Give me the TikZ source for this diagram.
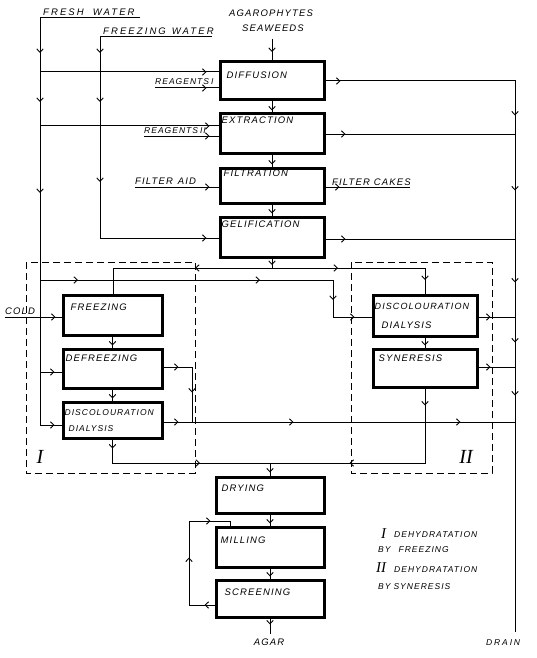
\documentclass[tikz,border=0pt]{standalone}
\usepackage{fontspec}
\newfontfamily\hw[LetterSpace=12]{Liberation Sans}
\newfontfamily\hwb[LetterSpace=22]{Liberation Sans}
\newfontfamily\rn{Liberation Serif}
\usetikzlibrary{arrows.meta,decorations.markings,calc}
\tikzset{
  box/.style={draw, line width=3pt, rectangle, inner sep=0pt},
  ln/.style={line width=1pt},
  ar/.style={postaction={decorate,decoration={markings,mark=at position #1 with {\arrow{Straight Barb[length=3.5pt,width=6.5pt,line width=0.9pt]}}}}},
  txt/.style={font=\hw\itshape\fontsize{9.5}{11}\selectfont, inner sep=0pt, anchor=base west},
  txs/.style={font=\hw\itshape\fontsize{8.5}{10}\selectfont, inner sep=0pt, anchor=base west},
  txw/.style={font=\hwb\itshape\fontsize{8.5}{10}\selectfont, inner sep=0pt, anchor=base west},
  roman/.style={font=\rn\itshape\fontsize{20}{20}\selectfont, inner sep=0pt, anchor=base},
  romans/.style={font=\rn\itshape\fontsize{15}{15}\selectfont, inner sep=0pt, anchor=base west},
  frame/.style={line width=0.7pt, dash pattern=on 7pt off 4pt},
}
\begin{document}
\begin{tikzpicture}[x=1pt,y=-1pt]
\useasboundingbox (0,0) rectangle (536,658);

% ---------- boxes
\node[box,minimum width=104pt,minimum height=38pt] (diff) at (272,81) {};
\node[box,minimum width=104pt,minimum height=39pt] (ext) at (272,133.5) {};
\node[box,minimum width=104pt,minimum height=35pt] (filt) at (272,185.5) {};
\node[box,minimum width=104pt,minimum height=40pt] (gel) at (272,237) {};
\node[box,minimum width=99pt,minimum height=40pt] (fre) at (112.5,315) {};
\node[box,minimum width=99pt,minimum height=39pt] (defr) at (112.5,368.5) {};
\node[box,minimum width=99pt,minimum height=36pt] (dda) at (112.5,420) {};
\node[box,minimum width=104pt,minimum height=41pt] (ddb) at (425,315.5) {};
\node[box,minimum width=104pt,minimum height=38pt] (syn) at (425,368) {};
\node[box,minimum width=108pt,minimum height=36pt] (dry) at (270,495) {};
\node[box,minimum width=108pt,minimum height=40pt] (mill) at (270,547) {};
\node[box,minimum width=108pt,minimum height=37pt] (scr) at (270,598.5) {};

% ---------- box texts
\node[txt] (tdiff) at ($(diff.north west)+(8,18)$) {DIFFUSION};
\node[txt] (text) at ($(ext.north west)+(3,11)$) {EXTRACTION};
\node[txt] (tfilt) at ($(filt.north west)+(5,10)$) {FILTRATION};
\node[txt] (tgel) at ($(gel.north west)+(3,12)$) {GELIFICATION};
\node[txt] (tfre) at ($(fre.north west)+(9,17)$) {FREEZING};
\node[txt] (tdefr) at ($(defr.north west)+(4,14)$) {DEFREEZING};
\node[txs] (tdda1) at ($(dda.north west)+(3,15)$) {DISCOLOURATION};
\node[txs] (tdda2) at ($(dda.north west)+(7,31)$) {DIALYSIS};
\node[txt,font=\hw\itshape\fontsize{9}{10}\selectfont] (tddb1) at ($(ddb.north west)+(3,16)$) {DISCOLOURATION};
\node[txt] (tddb2) at ($(ddb.north west)+(10,35)$) {DIALYSIS};
\node[txt] (tsyn) at ($(syn.north west)+(7,14)$) {SYNERESIS};
\node[txt] (tdry) at ($(dry.north west)+(7,16)$) {DRYING};
\node[txt] (tmill) at ($(mill.north west)+(6,18)$) {MILLING};
\node[txt] (tscr) at ($(scr.north west)+(10,17)$) {SCREENING};

% ---------- outside texts
\node[txt,font=\hwb\itshape\fontsize{9.5}{11}\selectfont] (tfw) at (43,16) {FRESH\hspace{9pt}WATER};
\node[txt,font=\hwb\itshape\fontsize{9.5}{11}\selectfont] (tfz) at (103,35) {FREEZING\hspace{6pt}WATER};
\node[txt,anchor=base] (tag1) at (271,17) {AGAROPHYTES};
\node[txt,anchor=base] (tag2) at (273,32) {SEAWEEDS};
\node[txs] (trg1) at (155,85) {REAGENTS\hspace{2pt}I};
\node[txs] (trg2) at (144,133) {REAGENTS\hspace{2pt}II};
\node[txt] (tfa) at (135,184) {FILTER\hspace{5pt}AID};
\node[txt] (tfc) at (332,185) {FILTER\hspace{4pt}CAKES};
\node[txt] (tcold) at (5,314) {COLD};
\node[txt,anchor=base] (tagar) at (269,645) {AGAR};
\node[txw] (tdrain) at (486,645) {DRAIN};
\node[roman] (rI) at (40,463) {I};
\node[roman] (rII) at (466,463) {II};
\node[romans] (lI) at (381,538) {I};
\node[txs] (lI1) at (394,537) {DEHYDRATATION};
\node[txs] (lI2) at (378,552) {BY\hspace{8pt}FREEZING};
\node[romans] (lII) at (376,572) {II};
\node[txs] (lII1) at (394,572) {DEHYDRATATION};
\node[txs] (lII2) at (378,589) {BY\hspace{3pt}SYNERESIS};

% ---------- dashed frames
\draw[frame] (26,262) rectangle (195,473);
\draw[frame] (351,262) rectangle (492,473);

% ---------- coordinates
\coordinate (fwa) at (140,18);
\coordinate (fwb) at (40,18);
\coordinate (fwc) at (40,425);
\coordinate (fza) at (212,37);
\coordinate (fzb) at (100,37);
\coordinate (fzc) at (100,238);
\coordinate (fd1) at (40,72);
\coordinate (fd2) at (40,126);
\coordinate (rg1) at (155,88);
\coordinate (rg2) at (144,136);
\coordinate (fa) at (135,187);
\coordinate (fc) at (410,187);
\coordinate (swa) at (272,39);
\coordinate (dra) at (515,81);
\coordinate (drb) at (515,632);
\coordinate (exo) at (515,134);
\coordinate (gelo) at (515,239);
\coordinate (ddbo) at (515,317);
\coordinate (syno) at (515,367);
\coordinate (cda) at (5,317);
\coordinate (dfa) at (40,372);
\coordinate (gs) at (272,268);
\coordinate (gsl) at (113,268);
\coordinate (gsr) at (425,268);
\coordinate (fda) at (40,280);
\coordinate (fdb) at (333,280);
\coordinate (fdc) at (333,317);
\coordinate (dfo1) at (192,367);
\coordinate (dfo2) at (192,422);
\coordinate (ll) at (515,422);
\coordinate (mg) at (270,463);
\coordinate (ag) at (270,634);
\coordinate (rc1) at (189,605);
\coordinate (rc2) at (189,521);
\coordinate (rc3) at (230,521);

% ---------- water supply
\draw[ln, ar=135pt, ar=184pt, ar=275pt, ar=-7pt] (fwa) -- (fwb) -- (fwc) -- (dda.west |- fwc);
\draw[ln, ar=128pt, ar=177pt, ar=257pt, ar=-12pt] (fza) -- (fzb) -- (fzc) -- (gel.west |- fzc);
\draw[ln, ar=-12pt] (fd1) -- (diff.west |- fd1);
\draw[ln, ar=-9pt] (fd2) -- (ext.west |- fd2);
\draw[ln, ar=-12pt] (rg1) -- (diff.west |- rg1);
\draw[ln, ar=-9pt] (rg2) -- (ext.west |- rg2);
\draw[ln, ar=-9pt] (fa) -- (filt.west |- fa);
\draw[ln, ar=14pt] (filt.east |- fc) -- (fc);
\draw[ln, ar=-6pt] (cda) -- (fre.west |- cda);
\draw[ln, ar=-7pt] (dfa) -- (defr.west |- dfa);
\draw[ln, ar=38pt, ar=220pt, ar=313pt, ar=-17pt] (fda) -- (fdb) -- (fdc) -- (ddb.west |- fdc);

% ---------- main column
\draw[ln, ar=13pt] (swa) -- (diff.north);
\draw[ln, ar=-2pt] (diff.south) -- (ext.north);
\draw[ln, ar=-2pt] (ext.south) -- (filt.north);
\draw[ln, ar=-2pt] (filt.south) -- (gel.north);
\draw[ln, ar=-3pt] (gel.south) -- (gs);
\draw[ln, ar=77pt] (gs) -- (gsl) -- (gsl |- fre.north);
\draw[ln, ar=66pt, ar=165pt] (gs) -- (gsr) -- (gsr |- ddb.north);
\draw[ln, ar=-2pt] (fre.south) -- (defr.north);
\draw[ln, ar=-2pt] (defr.south) -- (dda.north);
\draw[ln, ar=-2pt] (ddb.south) -- (syn.north);

% ---------- drain
\draw[ln, ar=15pt, ar=224pt, ar=299pt, ar=391pt, ar=451pt, ar=504pt] (diff.east |- dra) -- (dra) -- (drb);
\draw[ln, ar=20pt] (ext.east |- exo) -- (exo);
\draw[ln, ar=20pt] (gel.east |- gelo) -- (gelo);
\draw[ln, ar=12pt] (ddb.east |- ddbo) -- (ddbo);
\draw[ln, ar=12pt] (syn.east |- syno) -- (syno);
\draw[ln, ar=15pt, ar=54pt] (defr.east |- dfo1) -- (dfo1) -- (dfo2);
\draw[ln, ar=15pt, ar=130pt, ar=297pt] (dda.east |- ll) -- (ll);

% ---------- to drying
\draw[ln, ar=9pt, ar=111pt] (dda.south) -- (dda.south |- mg) -- (mg);
\draw[ln, ar=17pt, ar=150pt] (syn.south) -- (syn.south |- mg) -- (mg);
\draw[ln, ar=-3pt] (mg) -- (dry.north);
\draw[ln, ar=-2pt] (dry.south) -- (mill.north);
\draw[ln, ar=-2pt] (mill.south) -- (scr.north);
\draw[ln, ar=6pt] (scr.south) -- (ag);
\draw[ln, ar=10pt, ar=73pt, ar=131pt] (scr.west |- rc1) -- (rc1) -- (rc2) -- (rc3) -- (rc3 |- mill.north);
\end{tikzpicture}
\end{document}
